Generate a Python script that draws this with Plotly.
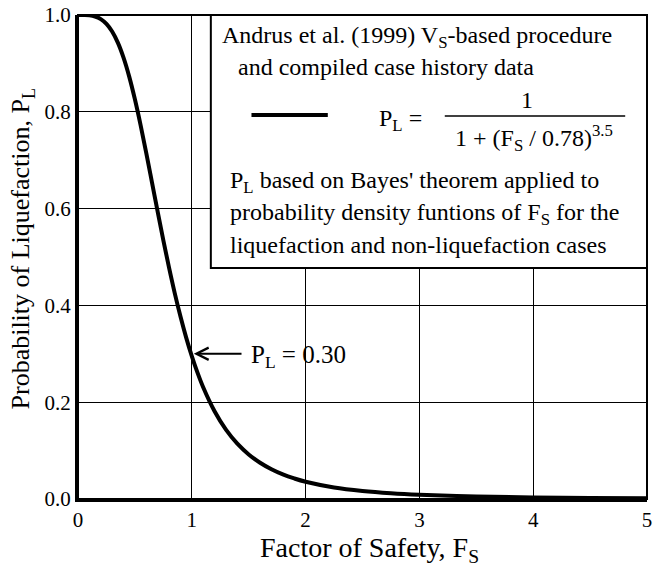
import plotly.graph_objects as go

# Factor of safety (x) and probability of liquefaction (y)
fs = [0.0, 0.05, 0.1, 0.15, 0.2, 0.25, 0.3, 0.35, 0.4, 0.45, 0.5, 0.55, 0.6, 0.65, 0.7,
      0.75, 0.8, 0.85, 0.9, 0.95, 1.0, 1.05, 1.1, 1.2, 1.3, 1.4, 1.5, 1.6, 1.7, 1.8,
      1.9, 2.0, 2.25, 2.5, 2.75, 3.0, 3.5, 4.0, 4.5, 5.0]
pl = [1.0, 0.9999, 0.9993, 0.9969, 0.9915, 0.9817, 0.9659, 0.9429, 0.9119, 0.8727,
      0.8258, 0.7726, 0.7147, 0.6543, 0.5936, 0.5343, 0.4779, 0.4254, 0.3774, 0.3340,
      0.2953, 0.2611, 0.2309, 0.1813, 0.1433, 0.1143, 0.0921, 0.0748, 0.0614, 0.0508,
      0.0425, 0.0357, 0.0239, 0.0167, 0.0120, 0.0089, 0.0052, 0.0033, 0.0022, 0.0015]

x_ticks = [0, 1, 2, 3, 4, 5]
y_ticks = [0.0, 0.2, 0.4, 0.6, 0.8, 1.0]
y_labels = ["0.0", "0.2", "0.4", "0.6", "0.8", "1.0"]

FONT = "Liberation Serif"

fig = go.Figure()
fig.add_trace(go.Scatter(x=fs, y=pl, mode="lines",
                         line=dict(color="black", width=4, shape="spline"),
                         showlegend=False, hoverinfo="skip"))

fig.update_layout(
    width=655, height=567,
    margin=dict(l=78, r=3, t=15, b=68),
    paper_bgcolor="white", plot_bgcolor="white",
    font=dict(family=FONT, color="black", size=21),
    xaxis=dict(range=[0, 5], tickvals=x_ticks, ticktext=[str(v) for v in x_ticks],
               showgrid=True, gridcolor="black", gridwidth=1.2,
               showline=True, linecolor="black", linewidth=3, zeroline=False,
               ticks="", ticklabeloverflow="allow",
               tickfont=dict(size=21, family=FONT, color="black")),
    yaxis=dict(range=[0, 1], tickvals=y_ticks, ticktext=y_labels,
               showgrid=True, gridcolor="black", gridwidth=1.2,
               showline=True, linecolor="black", linewidth=3, zeroline=False,
               ticks="", ticklabeloverflow="allow",
               tickfont=dict(size=21, family=FONT, color="black")),
)

def px(v):
    return (v - 78) / 574.0

def py(v):
    return (499 - v) / 484.0

shapes = [
    dict(type="rect", xref="paper", yref="paper", x0=0, x1=1, y0=0, y1=1,
         line=dict(color="black", width=2), layer="above"),
    dict(type="rect", xref="paper", yref="paper", x0=px(212), x1=1, y0=py(268), y1=1,
         fillcolor="white", line=dict(color="black", width=2), layer="above"),
    dict(type="line", xref="paper", yref="paper", x0=px(253), x1=px(330), y0=py(115), y1=py(115),
         line=dict(color="black", width=4), layer="above"),
    dict(type="line", xref="paper", yref="paper", x0=px(448), x1=px(630), y0=py(116), y1=py(116),
         line=dict(color="black", width=1.5), layer="above"),
]
fig.update_layout(shapes=shapes)

BOX = 24
anns = [
    dict(text="Andrus et al. (1999) V<sub>S</sub>-based procedure", x=px(221), y=py(37), xanchor="left"),
    dict(text="and compiled case history data", x=px(237), y=py(67), xanchor="left"),
    dict(text="P<sub>L</sub> =", x=px(380), y=py(120), xanchor="left"),
    dict(text="1", x=px(531), y=py(100), xanchor="center"),
    dict(text="1 + (F<sub>S</sub> / 0.78)<sup>3.5</sup>", x=px(538), y=py(138), xanchor="center"),
    dict(text="P<sub>L</sub> based on Bayes' theorem applied to", x=px(229), y=py(182), xanchor="left"),
    dict(text="probability density funtions of F<sub>S</sub> for the", x=px(229), y=py(214), xanchor="left"),
    dict(text="liquefaction and non-liquefaction cases", x=px(229), y=py(245), xanchor="left"),
]
for a in anns:
    fig.add_annotation(xref="paper", yref="paper", yanchor="middle", showarrow=False,
                       font=dict(size=BOX, family=FONT, color="black"), **a)

fig.add_annotation(x=1.0, y=0.30, xref="x", yref="y", ax=1.45, ay=0.30, axref="x", ayref="y",
                   text="", showarrow=True, arrowhead=5, arrowwidth=2, arrowsize=1.2,
                   arrowcolor="black", standoff=2)
fig.add_annotation(x=1.5, y=0.295, xref="x", yref="y", xanchor="left", yanchor="middle",
                   text="P<sub>L</sub> = 0.30", showarrow=False,
                   font=dict(size=25, family=FONT, color="black"))

fig.add_annotation(text="Factor of Safety, F<sub>S</sub>", xref="paper", yref="paper",
                   x=px(372), y=py(549), xanchor="center", yanchor="middle", showarrow=False,
                   font=dict(size=28, family=FONT, color="black"))
fig.add_annotation(text="Probability of Liquefaction, P<sub>L</sub>", xref="paper", yref="paper",
                   x=px(22), y=py(248), xanchor="center", yanchor="middle", textangle=-90,
                   showarrow=False, font=dict(size=26, family=FONT, color="black"))

fig.write_html("out.html")
